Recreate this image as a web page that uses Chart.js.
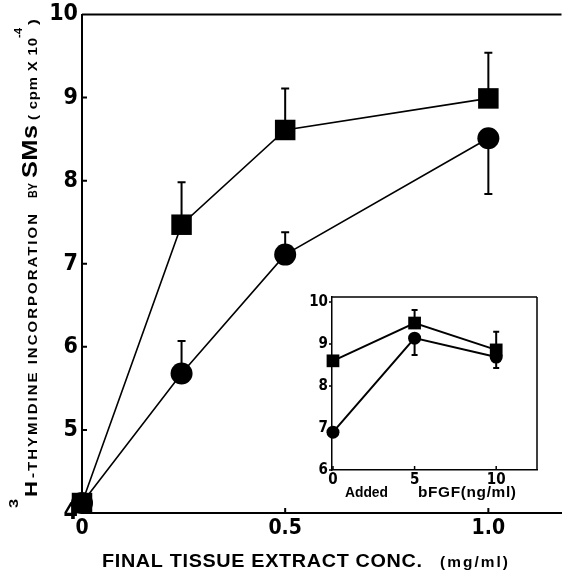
<!DOCTYPE html>
<html>
<head>
<meta charset="utf-8">
<script src="https://cdn.jsdelivr.net/npm/chart.js@4/dist/chart.umd.min.js"></script>
<style>
  html, body { margin: 0; padding: 0; background: #fff; }
  #wrap { position: relative; width: 576px; height: 582px; }
  #main { position: absolute; left: 0; top: 0; }
  #inset { position: absolute; left: 296px; top: 288px; }
</style>
</head>
<body>
<div id="wrap">
  <canvas id="main" width="576" height="582"></canvas>
  <canvas id="inset" width="250" height="216"></canvas>
</div>
<script>
// ---------- data ----------
const xConc = [0, 0.245, 0.5, 1.0];
const squareMean = [4.12, 7.47, 8.61, 8.99];
const squareErrUp = [0, 0.51, 0.50, 0.55];
const circleMean = [4.12, 5.68, 7.11, 8.51];
const circleErrUp = [0, 0.39, 0.27, 0];
const circleErrDown = [0, 0, 0, 0.67];

const mainYTicks = [4, 5, 6, 7, 8, 9, 10];
const mainYTickLabels = ['4', '5', '6', '7', '8', '9', '10'];
const mainXTicks = [0, 0.5, 1.0];
const mainXTickLabels = ['0', '0.5', '1.0'];

const bfgfDose = [0, 5, 10];
const insetSquareMean = [8.6, 9.5, 8.86];
const insetSquareErrUp = [0, 0.31, 0.43];
const insetCircleMean = [6.9, 9.14, 8.69];
const insetCircleErrDown = [0, 0.40, 0.26];

const insetYTicks = [6, 7, 8, 9, 10];
const insetYTickLabels = ['6', '7', '8', '9', '10'];
const insetXTicks = [0, 5, 10];
const insetXTickLabels = ['0', '5', '10'];

// ---------- helpers ----------
const NARROW = "'Liberation Sans Narrow', 'DejaVu Sans Condensed', 'Arial Narrow', sans-serif";
const SANS = "'Liberation Sans', Arial, sans-serif";

// text spanning `target` px: glyphs widened up to maxStretch, the rest as letter spacing
function fitText(ctx, text, x, y, target, font, maxStretch) {
  ctx.font = font;
  const hasLS = 'letterSpacing' in ctx;
  if (hasLS) ctx.letterSpacing = '0px';
  const w = ctx.measureText(text).width;
  const n = text.length;
  let s = target / w;
  if (hasLS && n > 1 && maxStretch) s = Math.min(s, maxStretch);
  const rest = target - w * s;
  ctx.save();
  ctx.translate(x, y);
  ctx.scale(s, 1);
  if (hasLS && n > 1 && Math.abs(rest) > 0.5) ctx.letterSpacing = (rest / s / (n - 1)) + 'px';
  ctx.fillText(text, 0, 0);
  if (hasLS) ctx.letterSpacing = '0px';
  ctx.restore();
}

function pts(xs, ys) { return xs.map((x, i) => ({ x: x, y: ys[i] })); }

const errorBars = {
  id: 'errorBars',
  beforeDatasetsDraw(chart, args, opts) {
    const ctx = chart.ctx, xs = chart.scales.x, ys = chart.scales.y;
    ctx.save();
    ctx.strokeStyle = '#000';
    ctx.lineWidth = opts.width || 2;
    chart.data.datasets.forEach(ds => {
      const up = ds.errUp || [], dn = ds.errDown || [];
      ds.data.forEach((p, i) => {
        const px = xs.getPixelForValue(p.x);
        const one = (d) => {
          if (!d) return;
          const y0 = ys.getPixelForValue(p.y), y1 = ys.getPixelForValue(p.y + d);
          ctx.beginPath();
          ctx.moveTo(px, y0); ctx.lineTo(px, y1);
          ctx.moveTo(px - opts.cap / 2, y1); ctx.lineTo(px + opts.cap / 2, y1);
          ctx.stroke();
        };
        one(up[i]);
        one(-(dn[i] || 0));
      });
    });
    ctx.restore();
  }
};

const frameTicks = {
  id: 'frameTicks',
  afterDraw(chart, args, opts) {
    const ctx = chart.ctx, a = chart.chartArea, xs = chart.scales.x, ys = chart.scales.y;
    ctx.save();
    ctx.strokeStyle = '#000';
    ctx.lineWidth = opts.width;
    ctx.beginPath();
    xs.ticks.forEach(t => {
      const px = xs.getPixelForValue(t.value);
      ctx.moveTo(px, a.bottom); ctx.lineTo(px, a.bottom - opts.xLen);
    });
    ys.ticks.forEach(t => {
      const py = ys.getPixelForValue(t.value);
      ctx.moveTo(a.left, py); ctx.lineTo(a.left + opts.yLen, py);
    });
    if (opts.top) { ctx.moveTo(a.left, a.top); ctx.lineTo(a.right, a.top); }
    if (opts.right) { ctx.moveTo(a.right, a.top); ctx.lineTo(a.right, a.bottom); }
    ctx.stroke();
    ctx.restore();
  }
};

const mainTitles = {
  id: 'mainTitles',
  afterDraw(chart) {
    const ctx = chart.ctx;
    ctx.save();
    ctx.fillStyle = '#000';
    ctx.textBaseline = 'alphabetic';
    ctx.textAlign = 'left';
    const pieces = [
      { t: '3', f: 'bold 12px ' + SANS, bx: 18, y0: 508, y1: 499 },
      { t: 'H', f: 'bold 17px ' + SANS, bx: 37, y0: 497, y1: 481 },
      { t: '-THYMIDINE INCORPORATION', f: 'bold 13px ' + SANS, bx: 37, y0: 478, y1: 214 },
      { t: 'BY', f: 'bold 12px ' + SANS, bx: 37, y0: 198, y1: 183 },
      { t: 'SMs', f: 'bold 22px ' + SANS, bx: 37, y0: 178, y1: 125 },
      { t: '( cpm X 10', f: 'bold 13px ' + SANS, bx: 37, y0: 120, y1: 38 },
      { t: '-4', f: 'bold 10px ' + SANS, bx: 22, y0: 38, y1: 28 },
      { t: ')', f: 'bold 13px ' + SANS, bx: 37, y0: 25, y1: 19 }
    ];
    pieces.forEach(p => {
      ctx.save();
      ctx.translate(p.bx, p.y0);
      ctx.rotate(-Math.PI / 2);
      fitText(ctx, p.t, 0, 0, p.y0 - p.y1, p.f, 1.15);
      ctx.restore();
    });
    fitText(ctx, 'FINAL TISSUE EXTRACT CONC.', 102, 567, 320, 'bold 18px ' + SANS, 1.1);
    fitText(ctx, '(mg/ml)', 440, 567, 68, 'bold 14px ' + SANS, 1.1);
    ctx.restore();
  }
};

const insetTitles = {
  id: 'insetTitles',
  afterDraw(chart) {
    const ctx = chart.ctx;
    ctx.save();
    ctx.fillStyle = '#000';
    ctx.textBaseline = 'alphabetic';
    fitText(ctx, 'Added', 49, 209, 43, 'bold 14px ' + SANS, 1.1);
    fitText(ctx, 'bFGF(ng/ml)', 122, 209, 98, 'bold 14px ' + SANS, 1.1);
    ctx.restore();
  }
};

const lineDs = (data, style, r, bw, extra) => Object.assign({
  data: data,
  borderColor: '#000',
  backgroundColor: '#000',
  borderWidth: bw,
  pointStyle: style,
  pointRadius: r,
  pointHoverRadius: r,
  pointBackgroundColor: '#000',
  pointBorderColor: '#000',
  pointBorderWidth: 0,
  tension: 0,
  fill: false,
  clip: false
}, extra);

// ---------- main chart ----------
new Chart(document.getElementById('main'), {
  type: 'line',
  data: {
    datasets: [
      lineDs(pts(xConc, circleMean), 'circle', 11, 1.6, { label: 'circle', errUp: circleErrUp, errDown: circleErrDown }),
      lineDs(pts(xConc, squareMean), 'rect', 14.5, 1.6, { label: 'square', errUp: squareErrUp })
    ]
  },
  options: {
    responsive: false,
    animation: false,
    devicePixelRatio: 1,
    layout: { padding: { top: 12, right: 4, left: 0, bottom: 0 } },
    plugins: {
      legend: { display: false },
      tooltip: { enabled: false },
      errorBars: { cap: 8, width: 2 },
      frameTicks: { xLen: 5, yLen: 5, width: 2, top: true, right: false }
    },
    scales: {
      x: {
        type: 'linear', min: 0, max: 1.18,
        afterBuildTicks: s => { s.ticks = mainXTicks.map(v => ({ value: v })); },
        afterFit: s => { s.height = 69; s.paddingLeft = 0; s.paddingRight = 0; },
        ticks: {
          callback: (v, i) => mainXTickLabels[i],
          font: { family: NARROW, size: 21, weight: 'bold' },
          color: '#000', padding: 3, maxRotation: 0, autoSkip: false
        },
        grid: { display: false, drawTicks: false },
        border: { display: true, color: '#000', width: 2 }
      },
      y: {
        type: 'linear', min: 4, max: 10,
        afterBuildTicks: s => { s.ticks = mainYTicks.map(v => ({ value: v })); },
        afterFit: s => { s.width = 82; s.paddingTop = 0; s.paddingBottom = 0; },
        ticks: {
          callback: (v, i) => mainYTickLabels[i],
          font: { family: NARROW, size: 23, weight: 'bold' },
          color: '#000', padding: 4, autoSkip: false
        },
        grid: { display: false, drawTicks: false },
        border: { display: true, color: '#000', width: 2 }
      }
    }
  },
  plugins: [errorBars, frameTicks, mainTitles]
});

// ---------- inset chart ----------
new Chart(document.getElementById('inset'), {
  type: 'line',
  data: {
    datasets: [
      lineDs(pts(bfgfDose, insetCircleMean), 'circle', 6.5, 2, { label: 'circle', errDown: insetCircleErrDown }),
      lineDs(pts(bfgfDose, insetSquareMean), 'rect', 9, 2, { label: 'square', errUp: insetSquareErrUp })
    ]
  },
  options: {
    responsive: false,
    animation: false,
    devicePixelRatio: 1,
    layout: { padding: { top: 9, right: 8, left: 0, bottom: 0 } },
    plugins: {
      legend: { display: false },
      tooltip: { enabled: false },
      errorBars: { cap: 6, width: 2 },
      frameTicks: { xLen: 4, yLen: -3, width: 1.5, top: true, right: true }
    },
    scales: {
      x: {
        type: 'linear', min: -0.06, max: 12.5,
        afterBuildTicks: s => { s.ticks = insetXTicks.map(v => ({ value: v })); },
        afterFit: s => { s.height = 34; s.paddingLeft = 0; s.paddingRight = 0; },
        ticks: {
          callback: (v, i) => insetXTickLabels[i],
          font: { family: NARROW, size: 15, weight: 'bold' },
          color: '#000', padding: 1, maxRotation: 0, autoSkip: false
        },
        grid: { display: false, drawTicks: false },
        border: { display: true, color: '#000', width: 1.5 }
      },
      y: {
        type: 'linear', min: 6, max: 10.12,
        afterBuildTicks: s => { s.ticks = insetYTicks.map(v => ({ value: v })); },
        afterFit: s => { s.width = 36; s.paddingTop = 0; s.paddingBottom = 0; },
        ticks: {
          callback: (v, i) => insetYTickLabels[i],
          font: { family: NARROW, size: 15, weight: 'bold' },
          color: '#000', padding: 4, autoSkip: false
        },
        grid: { display: false, drawTicks: false },
        border: { display: true, color: '#000', width: 1.5 }
      }
    }
  },
  plugins: [errorBars, frameTicks, insetTitles]
});
</script>
</body>
</html>
